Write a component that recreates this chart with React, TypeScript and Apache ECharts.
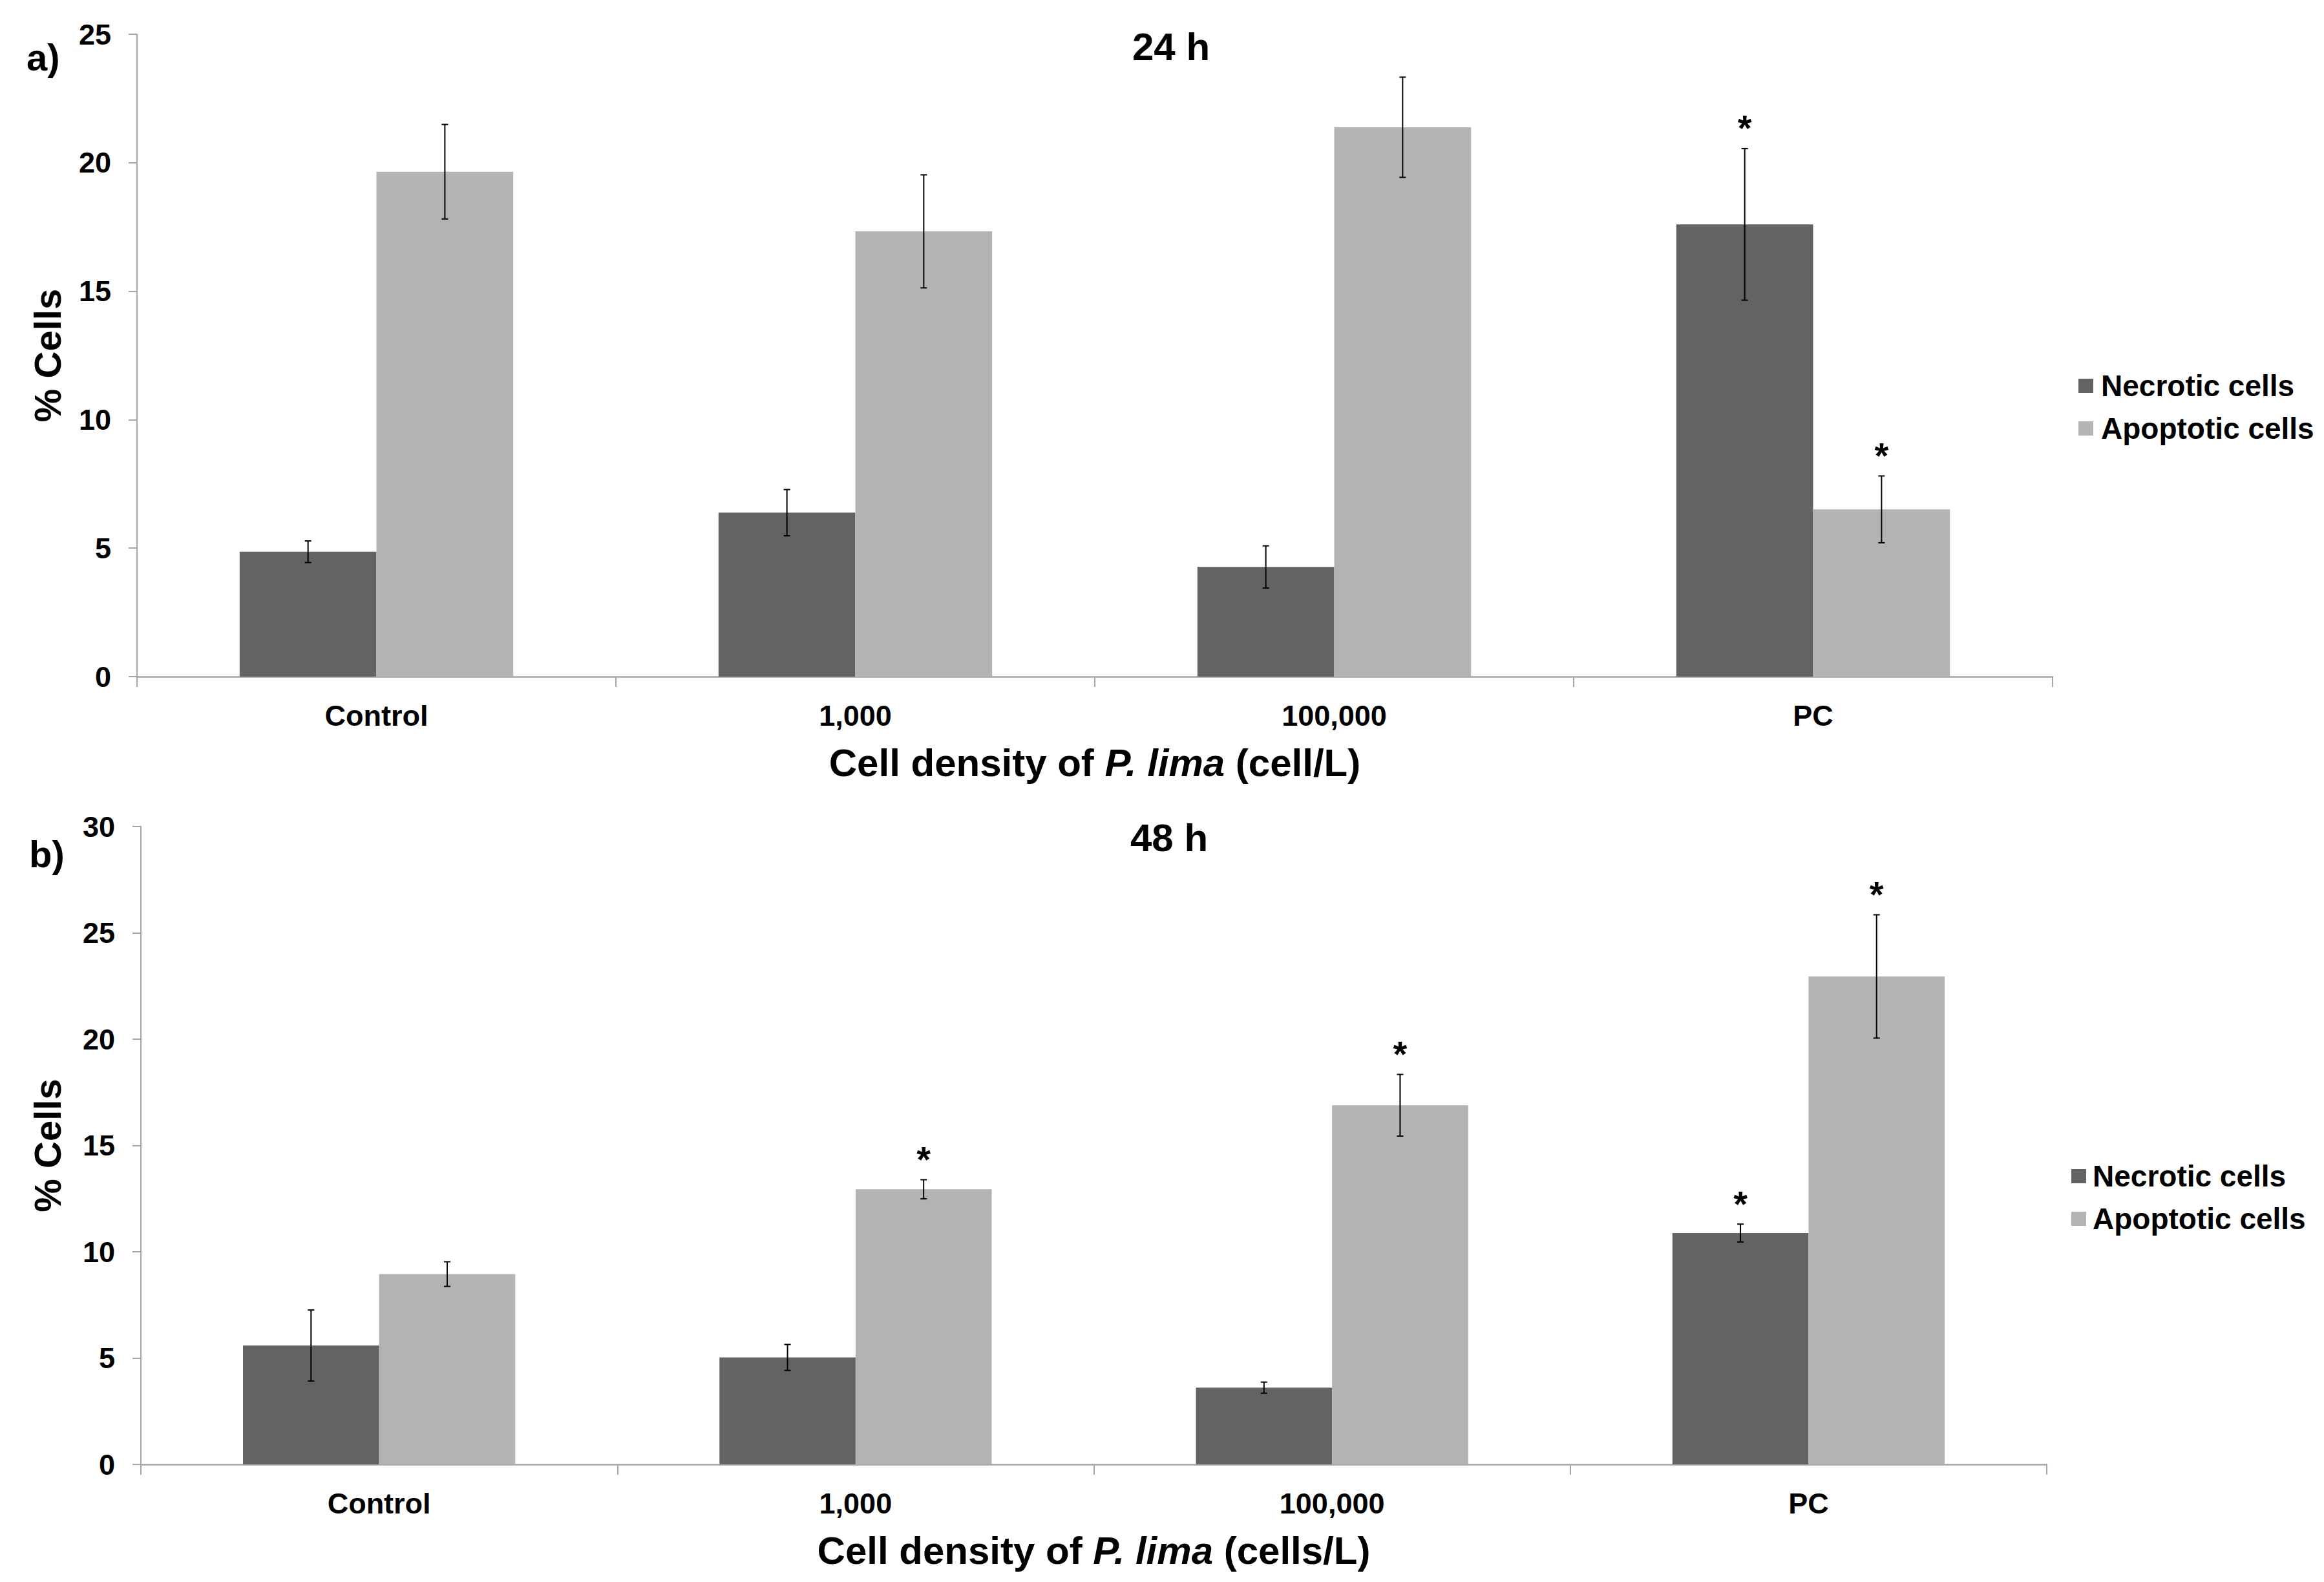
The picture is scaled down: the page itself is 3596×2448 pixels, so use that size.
import React, { useEffect, useRef } from "react";
import * as echarts from "echarts";

const categories = ["Control", "1,000", "100,000", "PC"];
const seriesNames = ["Necrotic cells", "Apoptotic cells"];

// 24 h panel
const necrotic24 = [4.86, 6.38, 4.27, 17.6];
const necroticErr24 = [0.42, 0.9, 0.82, 2.95];
const apoptotic24 = [19.65, 17.33, 21.38, 6.51];
const apoptoticErr24 = [1.84, 2.2, 1.95, 1.3];
const necroticStar24 = [0, 0, 0, 1];
const apoptoticStar24 = [0, 0, 0, 1];

// 48 h panel
const necrotic48 = [5.59, 5.03, 3.61, 10.88];
const necroticErr48 = [1.67, 0.61, 0.26, 0.42];
const apoptotic48 = [8.95, 12.94, 16.89, 22.95];
const apoptoticErr48 = [0.58, 0.45, 1.45, 2.9];
const necroticStar48 = [0, 0, 0, 1];
const apoptoticStar48 = [0, 1, 1, 1];

const FONT = "Liberation Sans, Arial, sans-serif";
const DARK = "#636363";
const LIGHT = "#b3b3b3";
const AXIS = "#a6a6a6";
const CAT_GAP = 1.5 / 3.5;

function errData(vals: number[], errs: number[], stars: number[], side: number) {
  return vals.map((v, i) => [i, v, errs[i], side, stars[i]]);
}

function renderErr(params: any, api: any) {
  const ci = api.value(0);
  const v = api.value(1);
  const e = api.value(2);
  const side = api.value(3);
  const star = api.value(4);
  const catW = api.size([1, 0])[0];
  const bw = (catW * (1 - CAT_GAP)) / 2;
  const base = api.coord([ci, v]);
  const cx = base[0] + (side === 0 ? -bw / 2 : bw / 2);
  const top = api.coord([ci, v + e])[1];
  const bot = api.coord([ci, v - e])[1];
  const ls = { stroke: "#000", lineWidth: 2 };
  const children: any[] = [
    { type: "line", shape: { x1: cx, y1: top, x2: cx, y2: bot }, style: ls },
    { type: "line", shape: { x1: cx - 5, y1: top, x2: cx + 5, y2: top }, style: ls },
    { type: "line", shape: { x1: cx - 5, y1: bot, x2: cx + 5, y2: bot }, style: ls },
  ];
  if (star) {
    children.push({
      type: "text",
      x: cx,
      y: top - 44 + 12,
      style: {
        text: "*",
        fill: "#000",
        fontSize: 56,
        fontWeight: "bold",
        fontFamily: FONT,
        align: "center",
        verticalAlign: "middle",
      },
    });
  }
  return { type: "group", children };
}

function xAxisCfg(gridIndex: number, unit: string) {
  return {
    type: "category",
    gridIndex,
    data: categories,
    axisLine: { show: true, lineStyle: { color: AXIS, width: 2.5 } },
    axisTick: { show: true, length: 16, lineStyle: { color: AXIS, width: 2 } },
    axisLabel: { margin: 38, fontSize: 45, fontWeight: "bold", color: "#000", fontFamily: FONT },
    splitLine: { show: false },
    name: "Cell density of {it|P. lima} (" + unit + ")",
    nameLocation: "middle",
    nameGap: 103,
    nameTextStyle: {
      fontSize: 60,
      fontWeight: "bold",
      color: "#000",
      fontFamily: FONT,
      rich: {
        it: { fontSize: 60, fontWeight: "bold", fontStyle: "italic", color: "#000", fontFamily: FONT },
      },
    },
  };
}

function yAxisCfg(gridIndex: number, max: number, nameGap: number) {
  return {
    type: "value",
    gridIndex,
    min: 0,
    max,
    interval: 5,
    axisLine: { show: true, lineStyle: { color: AXIS, width: 2 } },
    axisTick: { show: true, length: 13, lineStyle: { color: AXIS, width: 2 } },
    axisLabel: { margin: 40, fontSize: 45, fontWeight: "bold", color: "#000", fontFamily: FONT },
    splitLine: { show: false },
    name: "% Cells",
    nameLocation: "middle",
    nameGap,
    nameTextStyle: { fontSize: 58, fontWeight: "bold", color: "#000", fontFamily: FONT },
  };
}

function barSeries(name: string, data: number[], color: string, idx: number) {
  return {
    type: "bar",
    name,
    xAxisIndex: idx,
    yAxisIndex: idx,
    data,
    itemStyle: { color },
    barGap: "0%",
    barCategoryGap: "42.86%",
  };
}

function errSeries(name: string, data: any[], idx: number) {
  return {
    type: "custom",
    name,
    xAxisIndex: idx,
    yAxisIndex: idx,
    data,
    encode: { x: 0, y: 1 },
    renderItem: renderErr,
    z: 10,
    clip: false,
    silent: true,
  };
}

function legendCfg(left: number, top: number, pad: number) {
  return {
    orient: "vertical",
    left,
    top,
    itemWidth: 23,
    itemHeight: 22,
    itemGap: 20,
    icon: "rect",
    data: seriesNames,
    textStyle: {
      fontSize: 46,
      fontWeight: "bold",
      color: "#000",
      fontFamily: FONT,
      lineHeight: 45,
      padding: [0, 0, 0, pad],
    },
  };
}

function labelText(text: string, x: number, y: number, size: number, align: string) {
  return {
    type: "text",
    x,
    y,
    style: {
      text,
      fill: "#000",
      fontSize: size,
      fontWeight: "bold",
      fontFamily: FONT,
      align,
      verticalAlign: "middle",
    },
  };
}

export default function App() {
  const ref = useRef<HTMLDivElement>(null);
  useEffect(() => {
    if (!ref.current) return;
    const chart = echarts.init(ref.current, null, { renderer: "svg" });
    const option: any = {
      animation: false,
      backgroundColor: "#fff",
      grid: [
        { left: 212, top: 53, width: 2964, height: 994 },
        { left: 218, top: 1279, width: 2949, height: 987 },
      ],
      xAxis: [xAxisCfg(0, "cell/L"), xAxisCfg(1, "cells/L")],
      yAxis: [yAxisCfg(0, 25, 110), yAxisCfg(1, 30, 116)],
      legend: [legendCfg(3211, 569, 7), legendCfg(3200, 1792, 5)],
      series: [
        barSeries(seriesNames[0], necrotic24, DARK, 0),
        barSeries(seriesNames[1], apoptotic24, LIGHT, 0),
        barSeries(seriesNames[0], necrotic48, DARK, 1),
        barSeries(seriesNames[1], apoptotic48, LIGHT, 1),
        errSeries("err-n24", errData(necrotic24, necroticErr24, necroticStar24, 0), 0),
        errSeries("err-a24", errData(apoptotic24, apoptoticErr24, apoptoticStar24, 1), 0),
        errSeries("err-n48", errData(necrotic48, necroticErr48, necroticStar48, 0), 1),
        errSeries("err-a48", errData(apoptotic48, apoptoticErr48, apoptoticStar48, 1), 1),
      ],
      graphic: [
        labelText("a)", 41, 88, 58, "left"),
        labelText("b)", 45, 1321, 58, "left"),
        labelText("24 h", 1812, 72, 60, "center"),
        labelText("48 h", 1809, 1296, 60, "center"),
      ],
    };
    chart.setOption(option);
    return () => chart.dispose();
  }, []);
  return (
    <div
      ref={ref}
      style={{ position: "absolute", left: 0, top: 0, width: 3596, height: 2448, background: "#fff" }}
    />
  );
}
